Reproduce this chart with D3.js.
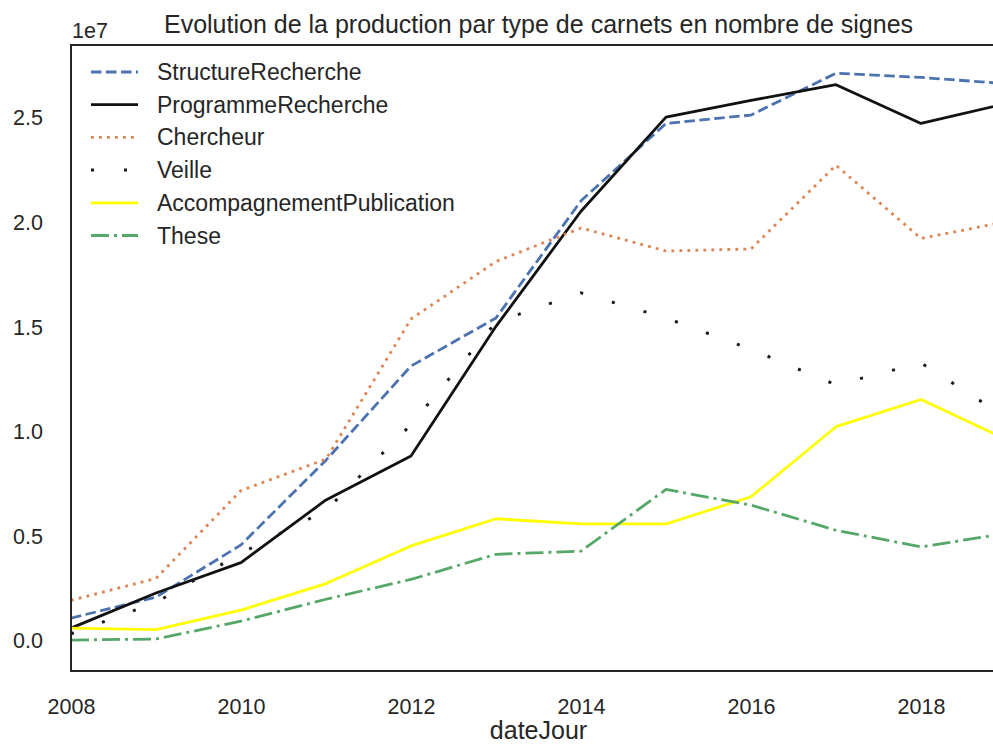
<!DOCTYPE html>
<html>
<head>
<meta charset="utf-8">
<script src="https://cdn.jsdelivr.net/npm/d3@7"></script>
<style>
  html, body { margin: 0; padding: 0; background: #ffffff; }
  svg { display: block; }
  text { font-family: "Liberation Sans", Arial, sans-serif; fill: #262626; }
</style>
</head>
<body>
<svg id="chart" width="993" height="745"></svg>
<script>
// ---- data (values in units of 1e7 signs) ----
const years = [2008, 2009, 2010, 2011, 2012, 2013, 2014, 2015, 2016, 2017, 2018, 2019];
const structureRecherche = [0.105, 0.205, 0.455, 0.86, 1.31, 1.54, 2.10, 2.47, 2.51, 2.71, 2.69, 2.66];
const programmeRecherche = [0.057, 0.225, 0.37, 0.67, 0.88, 1.50, 2.05, 2.50, 2.58, 2.655, 2.47, 2.565];
const chercheur = [0.19, 0.295, 0.715, 0.865, 1.535, 1.81, 1.97, 1.86, 1.87, 2.27, 1.92, 2.00];
const veille = [0.03, 0.18, 0.415, 0.62, 1.03, 1.52, 1.66, 1.54, 1.39, 1.22, 1.325, 1.065];
const accompagnementPublication = [0.057, 0.05, 0.143, 0.27, 0.45, 0.58, 0.555, 0.555, 0.685, 1.02, 1.15, 0.96];
const these = [0.0, 0.005, 0.09, 0.195, 0.29, 0.41, 0.425, 0.72, 0.645, 0.525, 0.445, 0.51];

const seriesNames = ["StructureRecherche", "ProgrammeRecherche", "Chercheur", "Veille", "AccompagnementPublication", "These"];
const seriesValues = [structureRecherche, programmeRecherche, chercheur, veille, accompagnementPublication, these];
const xTickLabels = ["2008", "2010", "2012", "2014", "2016", "2018"];
const yTickValues = [0.0, 0.5, 1.0, 1.5, 2.0, 2.5];
const titleText = "Evolution de la production par type de carnets en nombre de signes";
const xLabelText = "dateJour";
const offsetText = "1e7";

// ---- styles ----
const styles = [
  { color: "#4C72B0", dash: "10.5,4.5", width: 2.8, cap: "butt" },
  { color: "#111111", dash: null, width: 2.8, cap: "butt" },
  { color: "#DD8452", dash: "2.8,5.2", width: 2.8, cap: "butt" },
  { color: "#1a1a1a", dash: "3,30", width: 3, cap: "butt" },
  { color: "#FFFF00", dash: null, width: 2.8, cap: "butt" },
  { color: "#55A868", dash: "18,5,3,5", width: 2.8, cap: "butt" }
];

const svg = d3.select("#chart");
const margin = { left: 71, top: 45, right: 1006, bottom: 671 };

const x = d3.scaleLinear().domain([2008, 2019]).range([margin.left, margin.right]);
const y = d3.scaleLinear().domain([-0.148, 2.845]).range([margin.bottom, margin.top]);

svg.append("rect").attr("width", 993).attr("height", 745).attr("fill", "#ffffff");

svg.append("defs").append("clipPath").attr("id", "plotclip")
  .append("rect")
  .attr("x", margin.left).attr("y", margin.top)
  .attr("width", margin.right - margin.left).attr("height", margin.bottom - margin.top);

// lines
const line = d3.line().x((d, i) => x(years[i])).y(d => y(d));
const gLines = svg.append("g").attr("clip-path", "url(#plotclip)");
seriesValues.forEach((vals, k) => {
  const s = styles[k];
  gLines.append("path")
    .datum(vals)
    .attr("d", line)
    .attr("fill", "none")
    .attr("stroke", s.color)
    .attr("stroke-width", s.width)
    .attr("stroke-linecap", s.cap)
    .attr("stroke-linejoin", "round")
    .attr("stroke-dasharray", s.dash);
});

// axes (no tick marks, seaborn white style)
const xAxis = d3.axisBottom(x)
  .tickValues(xTickLabels.map(Number))
  .tickFormat(d3.format("d"))
  .tickSize(0).tickPadding(0);
const gx = svg.append("g").attr("transform", `translate(0,${margin.bottom})`).call(xAxis);
gx.select(".domain").remove();
gx.selectAll("text")
  .attr("y", 43).attr("dy", null)
  .style("font-size", "21.5px")
  .style("font-family", "'Liberation Sans', Arial, sans-serif")
  .attr("fill", "#262626");

const yAxis = d3.axisLeft(y)
  .tickValues(yTickValues)
  .tickFormat(d3.format(".1f"))
  .tickSize(0).tickPadding(0);
const gy = svg.append("g").attr("transform", `translate(${margin.left},0)`).call(yAxis);
gy.select(".domain").remove();
gy.selectAll("text")
  .attr("x", -28).attr("dy", "0.36em")
  .style("font-size", "21.5px")
  .style("font-family", "'Liberation Sans', Arial, sans-serif")
  .attr("fill", "#262626");

// spines
svg.append("rect")
  .attr("x", margin.left).attr("y", margin.top)
  .attr("width", margin.right - margin.left).attr("height", margin.bottom - margin.top)
  .attr("fill", "none").attr("stroke", "#262626").attr("stroke-width", 2);

// offset text, title, x label
svg.append("text").attr("x", 72).attr("y", 38)
  .style("font-size", "21.5px").text(offsetText);
svg.append("text").attr("x", (margin.left + margin.right) / 2).attr("y", 33)
  .attr("text-anchor", "middle").style("font-size", "25px").text(titleText);
svg.append("text").attr("x", (margin.left + margin.right) / 2).attr("y", 739)
  .attr("text-anchor", "middle").style("font-size", "25px").text(xLabelText);

// legend
const legend = svg.append("g");
seriesNames.forEach((name, k) => {
  const s = styles[k];
  const cy = 72 + k * 32.7;
  legend.append("line")
    .attr("x1", 91).attr("x2", 138).attr("y1", cy).attr("y2", cy)
    .attr("stroke", s.color).attr("stroke-width", s.width)
    .attr("stroke-linecap", s.cap)
    .attr("stroke-dasharray", s.dash);
  legend.append("text").attr("x", 157).attr("y", cy + 8)
    .style("font-size", "23px").text(name);
});
</script>
</body>
</html>
